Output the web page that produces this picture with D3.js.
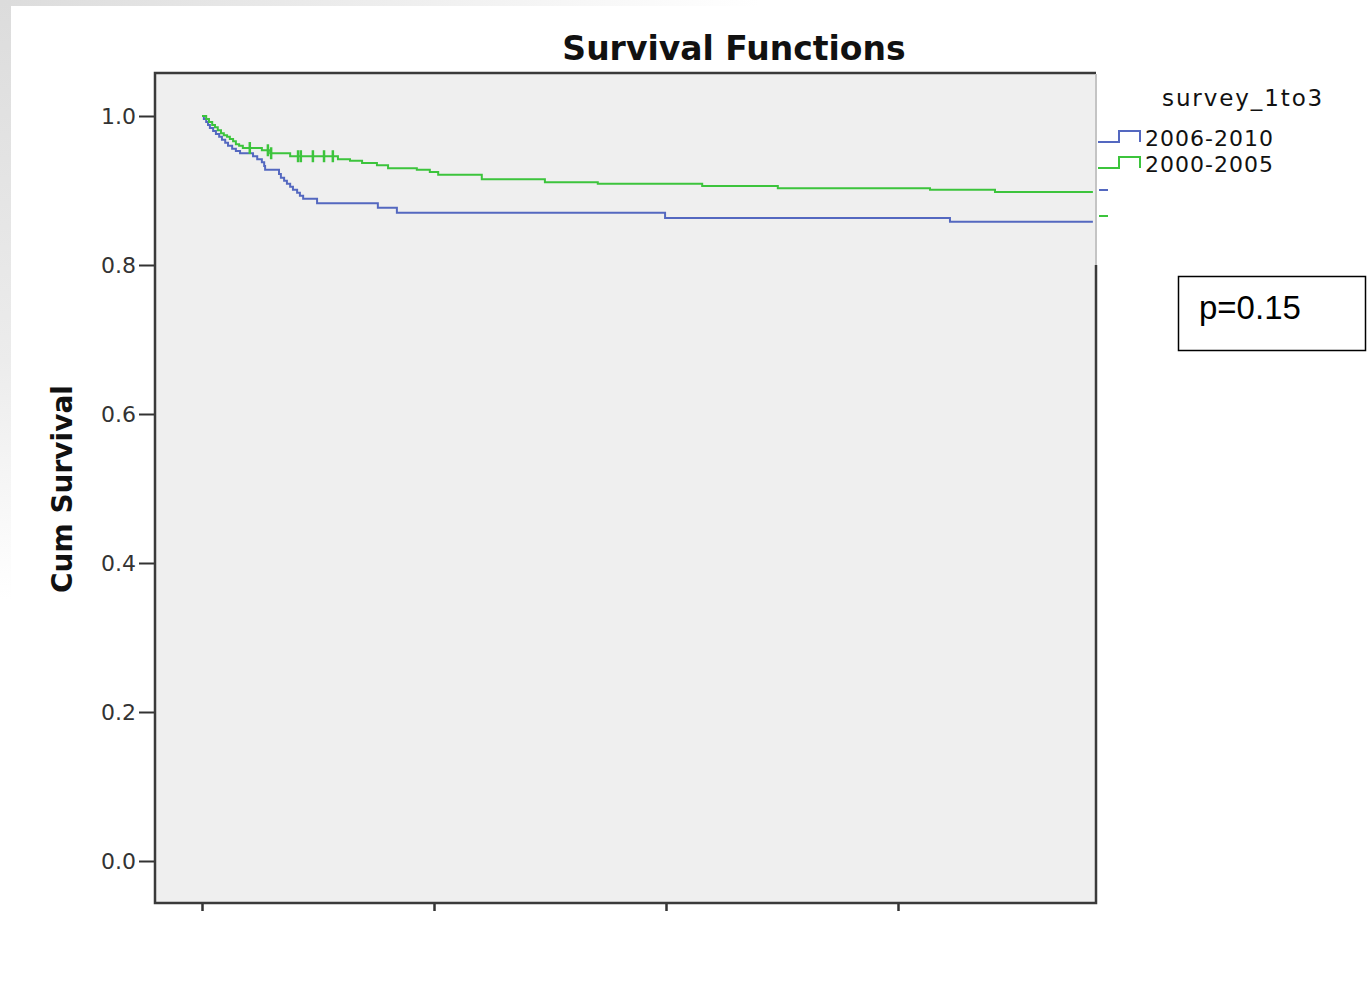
<!DOCTYPE html>
<html>
<head>
<meta charset="utf-8">
<script src="https://cdn.jsdelivr.net/npm/d3@7"></script>
<style>
  body { margin: 0; background: #fff; }
  svg { display: block; }
</style>
</head>
<body>
<script>
// survival step data: time (tick every 50 units), cum survival
var blueTimes = [0, 0.4, 0.9, 1.3, 1.7, 2.4, 3.0, 3.7, 4.3, 5.0, 5.6, 6.5, 7.3, 8.2, 11.0, 11.9, 12.9, 13.4, 13.6,
                 16.6, 17.0, 17.7, 18.3, 19.0, 19.6, 20.5, 21.1, 21.8, 24.8, 37.9, 42.0, 99.8, 161.2, 192.0];
var blueSurv  = [1.0, 0.996, 0.992, 0.988, 0.984, 0.980, 0.976, 0.972, 0.968, 0.964, 0.960, 0.956, 0.953, 0.950, 0.946, 0.942, 0.938, 0.933, 0.928,
                 0.922, 0.917, 0.913, 0.909, 0.905, 0.901, 0.897, 0.893, 0.889, 0.883, 0.877, 0.870, 0.863, 0.858, 0.858];

var greenTimes = [0, 0.9, 1.5, 2.2, 2.8, 3.4, 4.1, 4.7, 5.4, 6.0, 6.7, 7.3, 8.0, 8.8, 12.9, 14.7, 19.0, 29.3, 31.9,
                  34.5, 37.7, 40.1, 46.3, 49.1, 50.9, 60.3, 73.9, 85.3, 107.8, 124.1, 156.9, 170.9, 192.0];
var greenSurv  = [1.0, 0.996, 0.992, 0.988, 0.985, 0.981, 0.977, 0.974, 0.972, 0.969, 0.966, 0.962, 0.960, 0.957, 0.954, 0.950, 0.946, 0.942, 0.940,
                  0.937, 0.934, 0.930, 0.928, 0.925, 0.921, 0.915, 0.911, 0.909, 0.906, 0.903, 0.901, 0.898, 0.898];
var greenCensored = [10.3, 14.2, 14.9, 20.7, 21.3, 23.9, 26.3, 28.2];

var seriesNames = ["2006-2010", "2000-2005"];
var seriesColors = ["#5468c0", "#3cc43c"];
var yTicks = [0.0, 0.2, 0.4, 0.6, 0.8, 1.0];
var xTicks = [0, 50, 100, 150];

var W = 1367, H = 986;
var pL = 155, pR = 1096, pT = 73, pB = 903;

var svg = d3.select("body").append("svg")
    .attr("width", W)
    .attr("height", H);

// faint grey page edge
var defs = svg.append("defs");
var gTop = defs.append("linearGradient").attr("id", "gTop").attr("x1", 0).attr("x2", 1).attr("y1", 0).attr("y2", 0);
gTop.append("stop").attr("offset", 0).attr("stop-color", "#dcdcdc");
gTop.append("stop").attr("offset", 1).attr("stop-color", "#fff");
var gLeft = defs.append("linearGradient").attr("id", "gLeft").attr("x1", 0).attr("x2", 0).attr("y1", 0).attr("y2", 1);
gLeft.append("stop").attr("offset", 0).attr("stop-color", "#dcdcdc");
gLeft.append("stop").attr("offset", 0.6).attr("stop-color", "#ececec");
gLeft.append("stop").attr("offset", 1).attr("stop-color", "#fff");
svg.append("rect").attr("x", 0).attr("y", 0).attr("width", 760).attr("height", 6).attr("fill", "url(#gTop)");
svg.append("rect").attr("x", 0).attr("y", 0).attr("width", 11).attr("height", 600).attr("fill", "url(#gLeft)");

var x = d3.scaleLinear().domain([0, 150]).range([202, 898]);
var y = d3.scaleLinear().domain([0, 1]).range([861, 116]);

// plot background
svg.append("rect")
    .attr("x", pL).attr("y", pT)
    .attr("width", pR - pL).attr("height", pB - pT)
    .attr("fill", "#efefef");

// title
svg.append("text")
    .attr("x", 734).attr("y", 60)
    .attr("text-anchor", "middle")
    .style("font-family", "DejaVu Sans")
    .style("font-weight", "bold")
    .style("font-size", "33px")
    .attr("fill", "#111")
    .text("Survival Functions");

// y axis
var yAxis = d3.axisLeft(y).tickValues(yTicks).tickFormat(d3.format(".1f")).tickSize(16).tickPadding(3);
var yg = svg.append("g").attr("transform", "translate(" + pL + ",0)").call(yAxis);
yg.select(".domain").remove();
yg.selectAll(".tick line").attr("stroke", "#333").attr("stroke-width", 2);
yg.selectAll(".tick text")
    .style("font-family", "DejaVu Sans")
    .style("font-size", "22px")
    .attr("fill", "#333");

svg.append("text")
    .attr("transform", "translate(72,489) rotate(-90)")
    .attr("text-anchor", "middle")
    .style("font-family", "DejaVu Sans")
    .style("font-weight", "bold")
    .style("font-size", "28px")
    .attr("fill", "#111")
    .text("Cum Survival");

// x axis: ticks only
var xAxis = d3.axisBottom(x).tickValues(xTicks).tickFormat("").tickSize(8);
var xg = svg.append("g").attr("transform", "translate(0," + pB + ")").call(xAxis);
xg.select(".domain").remove();
xg.selectAll(".tick line").attr("stroke", "#333").attr("stroke-width", 2.5);

// frame
var frame = svg.append("g").attr("fill", "none").attr("stroke-width", 2.5);
frame.append("path").attr("stroke", "#3a3a3a")
    .attr("d", "M" + pR + "," + pT + "H" + pL + "V" + pB + "H" + pR + "V265");
frame.append("path").attr("stroke", "#c4c4c4").attr("stroke-width", 2)
    .attr("d", "M" + pR + ",265V" + (pT + 1));

// curves
var line = d3.line()
    .x(function (d) { return x(d[0]); })
    .y(function (d) { return y(d[1]); })
    .curve(d3.curveStepAfter);

var blueData = d3.zip(blueTimes, blueSurv);
var greenData = d3.zip(greenTimes, greenSurv);

svg.append("path").datum(blueData)
    .attr("fill", "none").attr("stroke", seriesColors[0]).attr("stroke-width", 2)
    .attr("d", line);
svg.append("path").datum(greenData)
    .attr("fill", "none").attr("stroke", seriesColors[1]).attr("stroke-width", 2)
    .attr("d", line);

function survAt(times, surv, t) {
    var i = d3.bisectRight(times, t) - 1;
    return surv[Math.max(0, i)];
}

svg.selectAll("line.cens")
    .data(greenCensored)
    .enter()
    .append("line")
    .attr("class", "cens")
    .attr("x1", function (d) { return x(d); })
    .attr("x2", function (d) { return x(d); })
    .attr("y1", function (d) { return y(survAt(greenTimes, greenSurv, d)) - 6; })
    .attr("y2", function (d) { return y(survAt(greenTimes, greenSurv, d)) + 6; })
    .attr("stroke", seriesColors[1])
    .attr("stroke-width", 2.5);

// legend
var leg = svg.append("g");
leg.append("text")
    .attr("x", 1162).attr("y", 106)
    .style("font-family", "DejaVu Sans")
    .style("font-size", "23px")
    .style("letter-spacing", "1.9px")
    .attr("fill", "#111")
    .text("survey_1to3");

seriesNames.forEach(function (name, i) {
    var cy = 142 + i * 26;
    leg.append("path")
        .attr("fill", "none")
        .attr("stroke", seriesColors[i])
        .attr("stroke-width", 2)
        .attr("d", "M1098," + cy + "H1119V" + (cy - 11) + "H1140V" + cy);
    leg.append("text")
        .attr("x", 1145).attr("y", cy + 4)
        .style("font-family", "DejaVu Sans")
        .style("font-size", "22px")
        .style("letter-spacing", "1px")
        .attr("fill", "#111")
        .text(name);
    leg.append("line")
        .attr("x1", 1099).attr("x2", 1108)
        .attr("y1", 190 + i * 26).attr("y2", 190 + i * 26)
        .attr("stroke", seriesColors[i])
        .attr("stroke-width", 2);
});

// p-value box
svg.append("rect")
    .attr("x", 1178.5).attr("y", 276.5)
    .attr("width", 187).attr("height", 74)
    .attr("fill", "#fff").attr("stroke", "#000").attr("stroke-width", 1.5);
svg.append("text")
    .attr("x", 1199).attr("y", 319)
    .style("font-family", "Liberation Sans")
    .style("font-size", "33px")
    .attr("fill", "#000")
    .text("p=0.15");
</script>
</body>
</html>
